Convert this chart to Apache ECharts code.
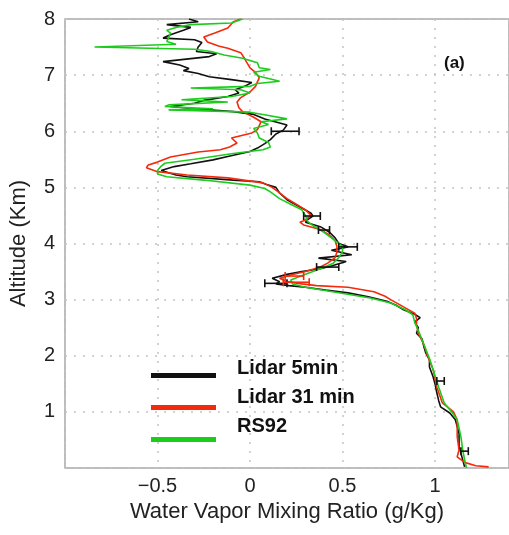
<!DOCTYPE html>
<html>
<head>
<meta charset="utf-8">
<script src="https://cdn.jsdelivr.net/npm/echarts@6/dist/echarts.min.js"></script>
<style>
  html, body { margin: 0; padding: 0; background: #fff; }
  #chart { width: 509px; height: 535px; }
</style>
</head>
<body>
<div id="chart"></div>
<script>
// altitude (km) / mixing ratio (g/kg) pairs, read top to bottom
const lidar5Alt = [8.00, 7.95, 7.90, 7.85, 7.80, 7.72, 7.66, 7.63, 7.58, 7.50, 7.42, 7.38, 7.33, 7.24, 7.18, 7.12, 7.08, 7.03, 6.97, 6.92, 6.87, 6.80, 6.74, 6.68, 6.62, 6.55, 6.50, 6.44, 6.40, 6.35, 6.30, 6.22, 6.11, 6.02, 5.95, 5.85, 5.78, 5.70, 5.64, 5.55, 5.49, 5.42, 5.37, 5.30, 5.22, 5.19, 5.13, 5.10, 5.05, 5.00, 4.90, 4.78, 4.65, 4.54, 4.49, 4.42, 4.38, 4.30, 4.20, 4.10, 4.00, 3.94, 3.88, 3.80, 3.74, 3.68, 3.60, 3.55, 3.50, 3.45, 3.38, 3.32, 3.28, 3.25, 3.22, 3.17, 3.12, 3.05, 2.97, 2.90, 2.82, 2.74, 2.68, 2.60, 2.50, 2.40, 2.30, 2.16, 2.05, 1.93, 1.80, 1.62, 1.50, 1.34, 1.20, 1.09, 0.98, 0.86, 0.62, 0.37, 0.27, 0.14, 0.02];
const lidar5Val = [-0.33, -0.28, -0.45, -0.32, -0.36, -0.43, -0.47, -0.30, -0.26, -0.28, -0.29, -0.18, -0.22, -0.47, -0.38, -0.33, -0.36, -0.28, -0.22, -0.10, 0.01, -0.03, -0.08, -0.06, -0.12, -0.25, -0.30, -0.43, -0.30, -0.09, 0.02, 0.08, 0.20, 0.18, 0.14, 0.11, 0.08, 0.04, 0.00, -0.12, -0.20, -0.32, -0.41, -0.48, -0.40, -0.34, -0.09, 0.05, 0.09, 0.14, 0.16, 0.20, 0.27, 0.33, 0.34, 0.31, 0.30, 0.38, 0.43, 0.46, 0.48, 0.53, 0.44, 0.55, 0.37, 0.52, 0.44, 0.38, 0.28, 0.20, 0.12, 0.16, 0.14, 0.21, 0.30, 0.41, 0.53, 0.64, 0.74, 0.79, 0.83, 0.89, 0.92, 0.89, 0.91, 0.90, 0.93, 0.94, 0.95, 0.97, 0.97, 0.99, 1.00, 1.01, 1.02, 1.03, 1.08, 1.11, 1.13, 1.13, 1.14, 1.15, 1.16];

const lidar31Alt = [8.00, 7.95, 7.84, 7.75, 7.68, 7.59, 7.52, 7.48, 7.40, 7.30, 7.24, 7.13, 7.05, 6.95, 6.88, 6.80, 6.70, 6.60, 6.52, 6.42, 6.35, 6.25, 6.17, 6.10, 6.03, 5.97, 5.88, 5.79, 5.72, 5.67, 5.63, 5.54, 5.45, 5.40, 5.35, 5.28, 5.22, 5.17, 5.08, 5.00, 4.90, 4.80, 4.70, 4.60, 4.50, 4.42, 4.38, 4.33, 4.25, 4.15, 4.05, 3.95, 3.85, 3.75, 3.65, 3.58, 3.50, 3.44, 3.38, 3.32, 3.28, 3.25, 3.22, 3.14, 3.06, 3.00, 2.87, 2.76, 2.67, 2.55, 2.40, 2.20, 2.00, 1.75, 1.44, 1.16, 1.00, 0.86, 0.56, 0.32, 0.20, 0.10, 0.04, 0.02];
const lidar31Val = [-0.05, -0.09, -0.12, -0.19, -0.25, -0.23, -0.17, -0.12, -0.05, -0.03, -0.02, 0.00, 0.03, 0.05, 0.04, 0.03, 0.00, -0.05, -0.07, -0.06, -0.04, 0.02, 0.06, 0.05, 0.04, 0.01, -0.10, -0.07, -0.11, -0.16, -0.28, -0.43, -0.50, -0.55, -0.56, -0.50, -0.34, -0.12, 0.07, 0.12, 0.16, 0.20, 0.25, 0.30, 0.33, 0.30, 0.27, 0.29, 0.38, 0.43, 0.46, 0.47, 0.47, 0.46, 0.42, 0.38, 0.30, 0.22, 0.16, 0.20, 0.28, 0.36, 0.53, 0.67, 0.73, 0.76, 0.83, 0.89, 0.90, 0.90, 0.91, 0.94, 0.96, 0.99, 1.01, 1.04, 1.10, 1.12, 1.12, 1.13, 1.12, 1.16, 1.22, 1.29];

const rs92Alt = [8.00, 7.93, 7.90, 7.85, 7.80, 7.75, 7.66, 7.60, 7.55, 7.50, 7.46, 7.42, 7.36, 7.30, 7.22, 7.13, 7.10, 7.05, 6.98, 6.89, 6.85, 6.80, 6.77, 6.74, 6.68, 6.62, 6.56, 6.52, 6.47, 6.44, 6.40, 6.38, 6.34, 6.28, 6.22, 6.17, 6.12, 6.05, 5.97, 5.88, 5.80, 5.72, 5.67, 5.60, 5.50, 5.43, 5.38, 5.30, 5.24, 5.19, 5.13, 5.04, 4.98, 4.92, 4.80, 4.70, 4.60, 4.50, 4.40, 4.32, 4.20, 4.05, 3.95, 3.85, 3.75, 3.65, 3.55, 3.45, 3.35, 3.28, 3.22, 3.17, 3.10, 3.03, 2.94, 2.82, 2.73, 2.60, 2.45, 2.20, 1.95, 1.75, 1.44, 1.16, 1.00, 0.86, 0.56, 0.32, 0.15, 0.00];
const rs92Val = [-0.04, -0.10, -0.32, -0.40, -0.45, -0.43, -0.44, -0.45, -0.40, -0.84, -0.30, -0.21, -0.14, -0.04, 0.04, 0.05, 0.11, 0.02, 0.05, 0.16, 0.04, 0.00, -0.32, -0.05, 0.00, -0.10, -0.37, -0.12, -0.44, -0.46, -0.20, -0.44, 0.00, 0.10, 0.20, 0.06, 0.10, 0.02, 0.04, 0.05, 0.10, 0.11, 0.07, -0.10, -0.30, -0.46, -0.48, -0.50, -0.50, -0.45, -0.25, 0.00, 0.08, 0.11, 0.16, 0.22, 0.28, 0.30, 0.31, 0.34, 0.40, 0.46, 0.50, 0.50, 0.48, 0.45, 0.38, 0.30, 0.22, 0.23, 0.30, 0.39, 0.52, 0.65, 0.76, 0.84, 0.88, 0.89, 0.91, 0.94, 0.97, 0.99, 1.02, 1.05, 1.09, 1.12, 1.14, 1.15, 1.16, 1.17];

// error bars of the lidar profiles: altitude, centre, half width
const errAlt5 = [6.00, 4.49, 4.24, 3.94, 3.58, 3.29, 1.55, 0.30];
const errMid5 = [0.19, 0.335, 0.40, 0.53, 0.42, 0.14, 1.03, 1.16];
const errHalf5 = [0.075, 0.045, 0.03, 0.05, 0.06, 0.06, 0.02, 0.02];
const errAlt31 = [3.31, 3.42];
const errMid31 = [0.25, 0.24];
const errHalf31 = [0.07, 0.05];

const xTicks = [-0.5, 0, 0.5, 1];
const yTicks = [1, 2, 3, 4, 5, 6, 7, 8];

const names = ["Lidar 5min", "Lidar 31 min", "RS92"];
const colors = ["#111111", "#f42a0c", "#1ccc1c"];

const pairs = (xs, ys) => ys.map((y, i) => [xs[i], y]);
const FONT = "Liberation Sans, Arial, sans-serif";

function errSeries(name, color, alt, mid, half) {
  return {
    name: name,
    type: "custom",
    data: alt.map((a, i) => [mid[i], a, half[i]]),
    renderItem: (params, api) => {
      const y = api.value(1);
      const a = api.coord([api.value(0) - api.value(2), y]);
      const b = api.coord([api.value(0) + api.value(2), y]);
      const style = { stroke: color, lineWidth: 1.6 };
      return {
        type: "group",
        children: [
          { type: "line", shape: { x1: a[0], y1: a[1], x2: b[0], y2: b[1] }, style },
          { type: "line", shape: { x1: a[0], y1: a[1] - 4, x2: a[0], y2: a[1] + 4 }, style },
          { type: "line", shape: { x1: b[0], y1: b[1] - 4, x2: b[0], y2: b[1] + 4 }, style },
        ],
      };
    },
    silent: true,
    z: 3,
  };
}

const chart = echarts.init(document.getElementById("chart"));
chart.setOption({
  animation: false,
  textStyle: { fontFamily: FONT },
  title: {
    text: "(a)",
    left: 439,
    top: 50,
    textStyle: { fontSize: 17, fontWeight: "bold", color: "#111", fontFamily: FONT },
  },
  grid: {
    left: 63,
    top: 19,
    width: 451,
    height: 449,
    show: true,
    borderColor: "#a8a8a8",
    borderWidth: 1.5,
  },
  legend: [
    {
      // swatches
      data: names,
      orient: "vertical",
      left: 146,
      top: 368,
      itemWidth: 65,
      itemHeight: 5,
      itemGap: 27,
      icon: "rect",
      selectedMode: false,
      formatter: () => "",
      textStyle: { fontSize: 4 },
    },
    {
      // labels
      data: names,
      orient: "vertical",
      left: 226,
      top: 353,
      itemWidth: 0,
      itemHeight: 0,
      itemGap: 9,
      selectedMode: false,
      itemStyle: { opacity: 0 },
      lineStyle: { opacity: 0 },
      textStyle: { fontSize: 20, fontWeight: "bold", color: "#111", lineHeight: 20, fontFamily: FONT },
    },
  ],
  xAxis: {
    type: "value",
    min: -1,
    max: 1.4,
    interval: 0.5,
    name: "Water Vapor Mixing Ratio (g/Kg)",
    nameLocation: "middle",
    nameGap: 30,
    nameTextStyle: { fontSize: 22, color: "#222", fontFamily: FONT },
    axisLine: { show: false },
    axisTick: { show: false },
    axisLabel: {
      margin: 8,
      fontSize: 20,
      color: "#222",
      fontFamily: FONT,
      showMaxLabel: false,
      formatter: (v) => (xTicks.includes(v) ? String(v).replace("-", "\u2212") : ""),
    },
    splitLine: { lineStyle: { color: "#c4c4c4", type: [2, 7], width: 1.5 } },
  },
  yAxis: {
    type: "value",
    min: 0,
    max: 8,
    interval: 1,
    name: "Altitude (Km)",
    nameLocation: "middle",
    nameGap: 35,
    nameTextStyle: { fontSize: 22, color: "#222", fontFamily: FONT },
    axisLine: { show: false },
    axisTick: { show: false },
    axisLabel: {
      margin: 10,
      fontSize: 20,
      color: "#222",
      fontFamily: FONT,
      formatter: (v) => (yTicks.includes(v) ? String(v) : ""),
    },
    splitLine: { lineStyle: { color: "#c4c4c4", type: [2, 7], width: 1.5 } },
  },
  series: [
    {
      name: names[0],
      type: "line",
      data: pairs(lidar5Val, lidar5Alt),
      showSymbol: false,
      itemStyle: { color: colors[0] },
      lineStyle: { width: 1.6, color: colors[0] },
      z: 2,
    },
    {
      name: names[1],
      type: "line",
      data: pairs(lidar31Val, lidar31Alt),
      showSymbol: false,
      itemStyle: { color: colors[1] },
      lineStyle: { width: 1.6, color: colors[1] },
      z: 2,
    },
    {
      name: names[2],
      type: "line",
      data: pairs(rs92Val, rs92Alt),
      showSymbol: false,
      itemStyle: { color: colors[2] },
      lineStyle: { width: 1.6, color: colors[2] },
      z: 2,
    },
    errSeries(names[0], colors[0], errAlt5, errMid5, errHalf5),
    errSeries(names[1], colors[1], errAlt31, errMid31, errHalf31),
  ],
});
</script>
</body>
</html>
